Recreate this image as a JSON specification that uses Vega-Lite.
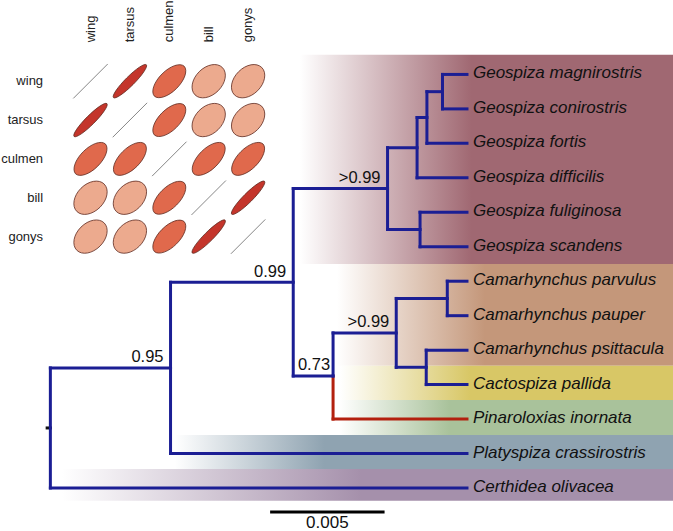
{
  "$schema": "https://vega.github.io/schema/vega-lite/v6.json",
  "width": 673,
  "height": 531,
  "padding": 0,
  "autosize": {"type": "fit", "contains": "padding"},
  "background": "white",
  "config": {"view": {"stroke": null}, "font": "Liberation Sans"},
  "datasets": {
    "bands": [
      {"clade": "Geospiza", "x": 0.01091, "x2": 0.0272, "y": 0.43, "y2": 6.5},
      {"clade": "Camarhynchus", "x": 0.01252, "x2": 0.0272, "y": 6.5, "y2": 9.45},
      {"clade": "Cactospiza", "x": 0.01265, "x2": 0.0272, "y": 9.45, "y2": 10.45},
      {"clade": "Pinaroloxias", "x": 0.01261, "x2": 0.0272, "y": 10.45, "y2": 11.46},
      {"clade": "Platyspiza", "x": 0.00544, "x2": 0.0272, "y": 11.46, "y2": 12.45},
      {"clade": "Certhidea", "x": 0.00051, "x2": 0.0272, "y": 12.45, "y2": 13.37}
    ],
    "edges": [
      {"x": 0.01235, "x2": 0.01235, "y": 9.75, "y2": 11, "col": "r"},
      {"x": 0.01235, "x2": 0.0182, "y": 11, "y2": 11, "col": "r"},
      {"x": -0.00014, "x2": 0, "y": 11.258, "y2": 11.258, "col": "k"},
      {"x": 0, "x2": 0.00525, "y": 9.516, "y2": 9.516, "col": "b"},
      {"x": 0, "x2": 0.0182, "y": 13, "y2": 13, "col": "b"},
      {"x": 0.00525, "x2": 0.01061, "y": 7.031, "y2": 7.031, "col": "b"},
      {"x": 0.00525, "x2": 0.0182, "y": 12, "y2": 12, "col": "b"},
      {"x": 0.01061, "x2": 0.01473, "y": 4.3125, "y2": 4.3125, "col": "b"},
      {"x": 0.01061, "x2": 0.01235, "y": 9.75, "y2": 9.75, "col": "b"},
      {"x": 0.01473, "x2": 0.01602, "y": 3.125, "y2": 3.125, "col": "b"},
      {"x": 0.01473, "x2": 0.01615, "y": 5.5, "y2": 5.5, "col": "b"},
      {"x": 0.01602, "x2": 0.01645, "y": 2.25, "y2": 2.25, "col": "b"},
      {"x": 0.01602, "x2": 0.0182, "y": 4, "y2": 4, "col": "b"},
      {"x": 0.01645, "x2": 0.01713, "y": 1.5, "y2": 1.5, "col": "b"},
      {"x": 0.01645, "x2": 0.0182, "y": 3, "y2": 3, "col": "b"},
      {"x": 0.01713, "x2": 0.0182, "y": 1, "y2": 1, "col": "b"},
      {"x": 0.01713, "x2": 0.0182, "y": 2, "y2": 2, "col": "b"},
      {"x": 0.01615, "x2": 0.0182, "y": 5, "y2": 5, "col": "b"},
      {"x": 0.01615, "x2": 0.0182, "y": 6, "y2": 6, "col": "b"},
      {"x": 0.01235, "x2": 0.01511, "y": 8.5, "y2": 8.5, "col": "b"},
      {"x": 0.01511, "x2": 0.01734, "y": 7.5, "y2": 7.5, "col": "b"},
      {"x": 0.01511, "x2": 0.01642, "y": 9.5, "y2": 9.5, "col": "b"},
      {"x": 0.01734, "x2": 0.0182, "y": 7, "y2": 7, "col": "b"},
      {"x": 0.01734, "x2": 0.0182, "y": 8, "y2": 8, "col": "b"},
      {"x": 0.01642, "x2": 0.0182, "y": 9, "y2": 9, "col": "b"},
      {"x": 0.01642, "x2": 0.0182, "y": 10, "y2": 10, "col": "b"},
      {"x": 0, "x2": 0, "y": 9.516, "y2": 13, "col": "b"},
      {"x": 0.00525, "x2": 0.00525, "y": 7.031, "y2": 12, "col": "b"},
      {"x": 0.01061, "x2": 0.01061, "y": 4.3125, "y2": 9.75, "col": "b"},
      {"x": 0.01473, "x2": 0.01473, "y": 3.125, "y2": 5.5, "col": "b"},
      {"x": 0.01602, "x2": 0.01602, "y": 2.25, "y2": 4, "col": "b"},
      {"x": 0.01645, "x2": 0.01645, "y": 1.5, "y2": 3, "col": "b"},
      {"x": 0.01713, "x2": 0.01713, "y": 1, "y2": 2, "col": "b"},
      {"x": 0.01615, "x2": 0.01615, "y": 5, "y2": 6, "col": "b"},
      {"x": 0.01235, "x2": 0.01235, "y": 8.5, "y2": 9.75, "col": "b"},
      {"x": 0.01511, "x2": 0.01511, "y": 7.5, "y2": 9.5, "col": "b"},
      {"x": 0.01734, "x2": 0.01734, "y": 7, "y2": 8, "col": "b"},
      {"x": 0.01642, "x2": 0.01642, "y": 9, "y2": 10, "col": "b"}
    ],
    "tips": [
      {"name": "Geospiza magnirostris", "x": 0.0182, "y": 1},
      {"name": "Geospiza conirostris", "x": 0.0182, "y": 2},
      {"name": "Geospiza fortis", "x": 0.0182, "y": 3},
      {"name": "Geospiza difficilis", "x": 0.0182, "y": 4},
      {"name": "Geospiza fuliginosa", "x": 0.0182, "y": 5},
      {"name": "Geospiza scandens", "x": 0.0182, "y": 6},
      {"name": "Camarhynchus parvulus", "x": 0.0182, "y": 7},
      {"name": "Camarhynchus pauper", "x": 0.0182, "y": 8},
      {"name": "Camarhynchus psittacula", "x": 0.0182, "y": 9},
      {"name": "Cactospiza pallida", "x": 0.0182, "y": 10},
      {"name": "Pinaroloxias inornata", "x": 0.0182, "y": 11},
      {"name": "Platyspiza crassirostris", "x": 0.0182, "y": 12},
      {"name": "Certhidea olivacea", "x": 0.0182, "y": 13}
    ],
    "support": [
      {"lab": "0.95", "x": 0.00525, "y": 9.516},
      {"lab": "0.99", "x": 0.01061, "y": 7.031},
      {"lab": ">0.99", "x": 0.01473, "y": 4.3125},
      {"lab": ">0.99", "x": 0.01511, "y": 8.5}
    ],
    "support2": [
      {"lab": "0.73", "x": 0.01235, "y": 9.75}
    ],
    "scalebar": [
      {"x": 0.0096, "x2": 0.0146, "y": 13.697, "lab": "0.005", "xm": 0.0121, "ym": 14.16}
    ],
    "cells": [
      {"r": "wing", "c": "wing", "ri": 1, "ci": 1, "k": "diag"},
      {"r": "wing", "c": "tarsus", "ri": 1, "ci": 2, "k": "strong"},
      {"r": "wing", "c": "culmen", "ri": 1, "ci": 3, "k": "medium"},
      {"r": "wing", "c": "bill", "ri": 1, "ci": 4, "k": "weak"},
      {"r": "wing", "c": "gonys", "ri": 1, "ci": 5, "k": "weak"},
      {"r": "tarsus", "c": "wing", "ri": 2, "ci": 1, "k": "strong"},
      {"r": "tarsus", "c": "tarsus", "ri": 2, "ci": 2, "k": "diag"},
      {"r": "tarsus", "c": "culmen", "ri": 2, "ci": 3, "k": "medium"},
      {"r": "tarsus", "c": "bill", "ri": 2, "ci": 4, "k": "weak"},
      {"r": "tarsus", "c": "gonys", "ri": 2, "ci": 5, "k": "weak"},
      {"r": "culmen", "c": "wing", "ri": 3, "ci": 1, "k": "medium"},
      {"r": "culmen", "c": "tarsus", "ri": 3, "ci": 2, "k": "medium"},
      {"r": "culmen", "c": "culmen", "ri": 3, "ci": 3, "k": "diag"},
      {"r": "culmen", "c": "bill", "ri": 3, "ci": 4, "k": "medium"},
      {"r": "culmen", "c": "gonys", "ri": 3, "ci": 5, "k": "medium"},
      {"r": "bill", "c": "wing", "ri": 4, "ci": 1, "k": "weak"},
      {"r": "bill", "c": "tarsus", "ri": 4, "ci": 2, "k": "weak"},
      {"r": "bill", "c": "culmen", "ri": 4, "ci": 3, "k": "medium"},
      {"r": "bill", "c": "bill", "ri": 4, "ci": 4, "k": "diag"},
      {"r": "bill", "c": "gonys", "ri": 4, "ci": 5, "k": "strong"},
      {"r": "gonys", "c": "wing", "ri": 5, "ci": 1, "k": "weak"},
      {"r": "gonys", "c": "tarsus", "ri": 5, "ci": 2, "k": "weak"},
      {"r": "gonys", "c": "culmen", "ri": 5, "ci": 3, "k": "medium"},
      {"r": "gonys", "c": "bill", "ri": 5, "ci": 4, "k": "strong"},
      {"r": "gonys", "c": "gonys", "ri": 5, "ci": 5, "k": "diag"}
    ],
    "rowlabels": [
      {"lab": "wing", "ri": 1, "ci": 0},
      {"lab": "tarsus", "ri": 2, "ci": 0},
      {"lab": "culmen", "ri": 3, "ci": 0},
      {"lab": "bill", "ri": 4, "ci": 0},
      {"lab": "gonys", "ri": 5, "ci": 0}
    ],
    "collabels": [
      {"lab": "wing", "ri": 0, "ci": 1},
      {"lab": "tarsus", "ri": 0, "ci": 2},
      {"lab": "culmen", "ri": 0, "ci": 3},
      {"lab": "bill", "ri": 0, "ci": 4},
      {"lab": "gonys", "ri": 0, "ci": 5}
    ]
  },
  "resolve": {"scale": {"x": "independent", "y": "independent"}},
  "layer": [
    {
      "encoding": {
        "x": {"field": "x", "type": "quantitative", "axis": null, "scale": {"domain": [-0.0022, 0.0272], "nice": false, "zero": false}},
        "y": {"field": "y", "type": "quantitative", "axis": null, "scale": {"domain": [-1.16, 14.19], "nice": false, "zero": false, "reverse": true}}
      },
      "layer": [
        {
          "data": {"name": "bands"},
          "transform": [{"filter": "datum.clade == 'Geospiza'"}],
          "mark": {"type": "rect", "fill": {"gradient": "linear", "x1": 0, "x2": 1, "y1": 0, "y2": 0, "stops": [{"offset": 0, "color": "#ffffff"}, {"offset": 0.46, "color": "#A06872"}, {"offset": 1, "color": "#A06872"}]}},
          "encoding": {"x2": {"field": "x2"}, "y2": {"field": "y2"}}
        },
        {
          "data": {"name": "bands"},
          "transform": [{"filter": "datum.clade == 'Camarhynchus'"}],
          "mark": {"type": "rect", "fill": {"gradient": "linear", "x1": 0, "x2": 1, "y1": 0, "y2": 0, "stops": [{"offset": 0, "color": "#ffffff"}, {"offset": 0.44, "color": "#C4977A"}, {"offset": 1, "color": "#C4977A"}]}},
          "encoding": {"x2": {"field": "x2"}, "y2": {"field": "y2"}}
        },
        {
          "data": {"name": "bands"},
          "transform": [{"filter": "datum.clade == 'Cactospiza'"}],
          "mark": {"type": "rect", "fill": {"gradient": "linear", "x1": 0, "x2": 1, "y1": 0, "y2": 0, "stops": [{"offset": 0, "color": "#ffffff"}, {"offset": 0.39, "color": "#D8C766"}, {"offset": 1, "color": "#D8C766"}]}},
          "encoding": {"x2": {"field": "x2"}, "y2": {"field": "y2"}}
        },
        {
          "data": {"name": "bands"},
          "transform": [{"filter": "datum.clade == 'Pinaroloxias'"}],
          "mark": {"type": "rect", "fill": {"gradient": "linear", "x1": 0, "x2": 1, "y1": 0, "y2": 0, "stops": [{"offset": 0, "color": "#ffffff"}, {"offset": 0.33, "color": "#A9C29B"}, {"offset": 1, "color": "#A9C29B"}]}},
          "encoding": {"x2": {"field": "x2"}, "y2": {"field": "y2"}}
        },
        {
          "data": {"name": "bands"},
          "transform": [{"filter": "datum.clade == 'Platyspiza'"}],
          "mark": {"type": "rect", "fill": {"gradient": "linear", "x1": 0, "x2": 1, "y1": 0, "y2": 0, "stops": [{"offset": 0, "color": "#ffffff"}, {"offset": 0.3, "color": "#8FA3B1"}, {"offset": 1, "color": "#8FA3B1"}]}},
          "encoding": {"x2": {"field": "x2"}, "y2": {"field": "y2"}}
        },
        {
          "data": {"name": "bands"},
          "transform": [{"filter": "datum.clade == 'Certhidea'"}],
          "mark": {"type": "rect", "fill": {"gradient": "linear", "x1": 0, "x2": 1, "y1": 0, "y2": 0, "stops": [{"offset": 0, "color": "#ffffff"}, {"offset": 0.49, "color": "#A590AB"}, {"offset": 1, "color": "#A590AB"}]}},
          "encoding": {"x2": {"field": "x2"}, "y2": {"field": "y2"}}
        },
        {
          "data": {"name": "edges"},
          "mark": {"type": "rule", "strokeWidth": 3, "strokeCap": "square"},
          "encoding": {
            "x2": {"field": "x2"},
            "y2": {"field": "y2"},
            "color": {"field": "col", "type": "nominal", "legend": null, "scale": {"domain": ["b", "r", "k"], "range": ["#1b1e94", "#b3200e", "#111111"]}}
          }
        },
        {
          "data": {"name": "tips"},
          "mark": {"type": "text", "align": "left", "baseline": "alphabetic", "dx": 6, "dy": 4, "fontSize": 17, "fontStyle": "italic", "font": "Liberation Sans", "color": "#111111"},
          "encoding": {"text": {"field": "name"}}
        },
        {
          "data": {"name": "support"},
          "mark": {"type": "text", "align": "right", "baseline": "alphabetic", "dx": -7, "dy": -5.5, "fontSize": 16.5, "font": "Liberation Sans", "color": "#111111"},
          "encoding": {"text": {"field": "lab"}}
        },
        {
          "data": {"name": "support2"},
          "mark": {"type": "text", "align": "right", "baseline": "alphabetic", "dx": -3, "dy": -5.5, "fontSize": 16.5, "font": "Liberation Sans", "color": "#111111"},
          "encoding": {"text": {"field": "lab"}}
        },
        {
          "data": {"name": "scalebar"},
          "mark": {"type": "rule", "strokeWidth": 3, "color": "#000000"},
          "encoding": {"x2": {"field": "x2"}}
        },
        {
          "data": {"name": "scalebar"},
          "mark": {"type": "text", "align": "center", "baseline": "alphabetic", "fontSize": 17, "font": "Liberation Sans", "color": "#111111"},
          "encoding": {
            "x": {"field": "xm", "type": "quantitative"},
            "y": {"field": "ym", "type": "quantitative"},
            "text": {"field": "lab"}
          }
        }
      ]
    },
    {
      "encoding": {
        "x": {"field": "ci", "type": "quantitative", "axis": null, "scale": {"domain": [-1.297, 15.784], "nice": false, "zero": false}},
        "y": {"field": "ri", "type": "quantitative", "axis": null, "scale": {"domain": [-1.09, 12.526], "nice": false, "zero": false, "reverse": true}}
      },
      "layer": [
        {
          "data": {"name": "cells"},
          "mark": {"type": "point", "filled": true, "opacity": 1, "size": 2304, "strokeWidth": 0.8},
          "encoding": {
            "shape": {"field": "k", "type": "nominal", "legend": null, "scale": {"domain": ["diag", "strong", "medium", "weak"], "range": [
              "M -0.717 0.717 L 0.717 -0.717",
              "M -0.684 0.684 A 0.967 0.19 -45 0 1 0.684 -0.684 A 0.967 0.19 -45 0 1 -0.684 0.684 Z",
              "M -0.622 0.622 A 0.88 0.44 -45 0 1 0.622 -0.622 A 0.88 0.44 -45 0 1 -0.622 0.622 Z",
              "M -0.57 0.57 A 0.806 0.56 -45 0 1 0.57 -0.57 A 0.806 0.56 -45 0 1 -0.57 0.57 Z"
            ]}},
            "fill": {"field": "k", "type": "nominal", "legend": null, "scale": {"domain": ["diag", "strong", "medium", "weak"], "range": ["transparent", "#C4352B", "#E0694C", "#ECAA8E"]}},
            "stroke": {"field": "k", "type": "nominal", "legend": null, "scale": {"domain": ["diag", "strong", "medium", "weak"], "range": ["#666666", "#5e2a20", "#5e2a20", "#5e2a20"]}}
          }
        },
        {
          "data": {"name": "rowlabels"},
          "mark": {"type": "text", "align": "right", "baseline": "middle", "dx": -8, "fontSize": 13, "font": "Liberation Sans", "color": "#222222"},
          "encoding": {"text": {"field": "lab"}}
        },
        {
          "data": {"name": "collabels"},
          "mark": {"type": "text", "align": "left", "baseline": "middle", "angle": 270, "fontSize": 13, "font": "Liberation Sans", "color": "#222222"},
          "encoding": {"text": {"field": "lab"}}
        }
      ]
    }
  ]
}
